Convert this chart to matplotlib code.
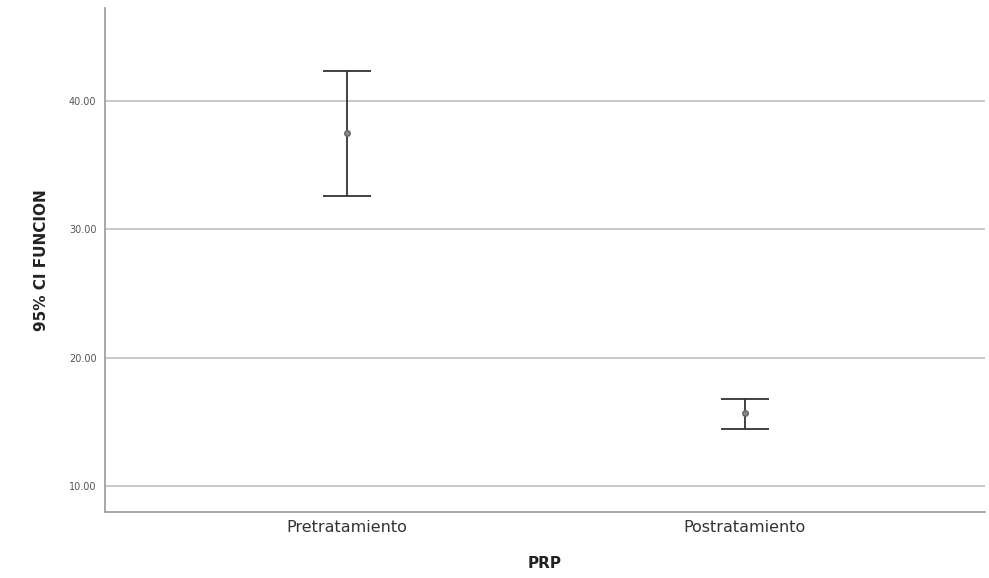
import matplotlib.pyplot as plt
import numpy as np

# datos (IC 95%)
grupos = ["Pretratamiento", "Postratamiento"]
media = [37.5, 15.7]
ic_inf = [32.6, 14.5]
ic_sup = [42.3, 16.8]
ticks_y = [10, 20, 30, 40]
etiquetas_y = ["10.00", "20.00", "30.00", "40.00"]

fig = plt.figure(figsize=(9.89, 5.78), dpi=100)
ax = fig.add_axes([0.106, 0.114, 0.89, 0.872])

x = np.arange(len(grupos))
err = [np.array(media) - np.array(ic_inf), np.array(ic_sup) - np.array(media)]

ax.set_yticks(ticks_y)
ax.set_yticklabels(etiquetas_y, fontsize=7, color="#555555")
ax.yaxis.grid(True, color="#c8c8c8", linewidth=1.4)
ax.set_axisbelow(True)

ax.errorbar(x, media, yerr=err, fmt="o", color="#333333", ecolor="#333333",
            markersize=4, markerfacecolor="#888888", markeredgecolor="#666666",
            elinewidth=1.3, capsize=17, capthick=1.3)

ax.set_xticks(x)
ax.set_xticklabels(grupos, fontsize=11.5, color="#333333")
ax.set_xlim(-0.608, 1.603)
ax.set_ylim(8.0, 47.2)
ax.tick_params(length=0, pad=6)

for s in ["top", "right"]:
    ax.spines[s].set_visible(False)
for s in ["left", "bottom"]:
    ax.spines[s].set_color("#999999")
    ax.spines[s].set_linewidth(1.2)

ax.set_ylabel("95% CI FUNCION", fontsize=11, fontweight="bold", color="#222222", labelpad=14)
ax.set_xlabel("PRP", fontsize=11, fontweight="bold", color="#222222", labelpad=15)

plt.savefig("out.png", dpi=100)
plt.close()
